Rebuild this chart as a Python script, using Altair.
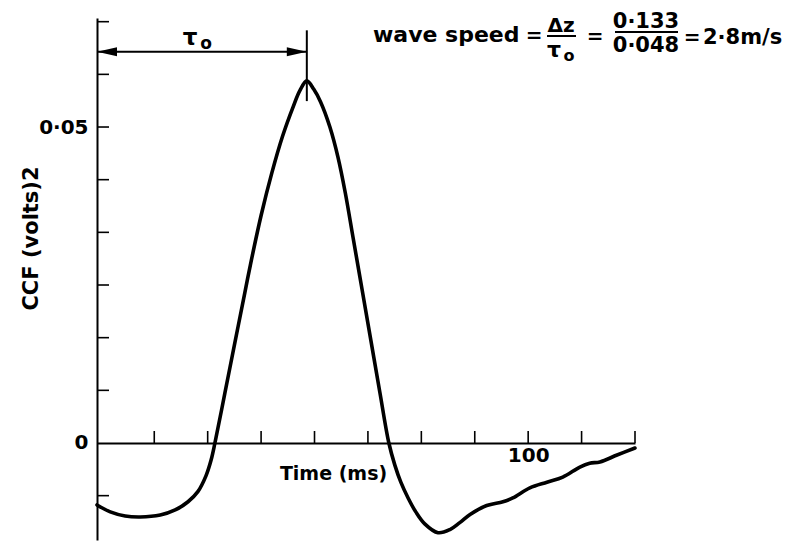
import altair as alt
import pandas as pd

# ---------------- data ----------------
time_ms = [-0.9, 2.2, 5.7, 9.2, 13.9, 17.4, 20.4, 22.7, 24.6, 25.8, 26.7,
           29.0, 31.4, 33.7, 35.0, 37.5, 40.0, 42.5, 45.0, 46.6, 48.2,
           49.8, 51.4, 53.6, 55.5, 57.2, 59.0, 61.1, 63.2, 65.3, 67.4,
           68.8, 70.2, 71.9, 73.7, 75.8, 78.9, 81.7, 84.0, 86.4, 90.3, 94.1,
           96.4, 100.4, 104.4, 108.1, 112.1, 114.4, 116.8, 120.8, 125.0]
ccf = [-0.0098, -0.0109, -0.01155, -0.0117, -0.0114, -0.0106, -0.0093,
       -0.0077, -0.0052, -0.0027, 0.0,
       0.0078, 0.0160, 0.0238, 0.0282, 0.0360, 0.0427, 0.0485, 0.0532,
       0.0558, 0.0573,
       0.0560, 0.0540, 0.0500, 0.0452, 0.0396, 0.0326, 0.0244, 0.0162,
       0.0080, 0.0,
       -0.0035, -0.0062, -0.0087, -0.0109, -0.0128, -0.0142, -0.0137,
       -0.0126, -0.0113, -0.0099, -0.0093, -0.0087, -0.0071, -0.0062,
       -0.0054, -0.0038, -0.0032, -0.0030, -0.0019, -0.0008]

x_tick_values = [12.5, 25, 37.5, 50, 62.5, 75, 87.5, 100, 112.5, 125]
x_label_values = [100]
y_tick_values = [-0.05 / 6, 0.05 / 6, 0.10 / 6, 0.15 / 6, 0.20 / 6, 0.25 / 6,
                 0.05, 0.35 / 6, 0.40 / 6]
y_label_values = [0, 0.05]

tau0_ms = 48.2          # peak lag (0.048 s)
arrow_level = 0.0619    # height of the tau0 dimension arrow
marker_top, marker_bottom = 0.0653, 0.0541

# ---------------- layout ----------------
X_MIN, X_MAX = -0.9, 125
Y_MIN, Y_MAX = -0.01535, 0.06725
W, H = 538, 522
LEFT, TOP = 97, 18
FONT = "DejaVu Sans"
INK = "black"

xs = alt.Scale(domain=[X_MIN, X_MAX], nice=False, zero=False)
ys = alt.Scale(domain=[Y_MIN, Y_MAX], nice=False, zero=False)

zero_from_bottom = H - H * Y_MAX / (Y_MAX - Y_MIN)

curve = alt.Chart(pd.DataFrame({"t": time_ms, "v": ccf})).mark_line(
    color=INK, strokeWidth=3.6, interpolate="catmull-rom", strokeCap="round",
    strokeJoin="round"
).encode(
    x=alt.X("t:Q", scale=xs, axis=alt.Axis(
        values=x_label_values, ticks=False, grid=False,
        domainColor=INK, domainWidth=2, offset=-zero_from_bottom,
        labelFont=FONT, labelFontSize=20, labelFontWeight="bold",
        labelColor=INK, labelPadding=3,
        title="Time (ms)", titleFont=FONT, titleFontSize=19,
        titleFontWeight="bold", titleColor=INK,
        titleX=236, titleY=31, titleBaseline="middle")),
    y=alt.Y("v:Q", scale=ys, axis=alt.Axis(
        values=y_label_values, ticks=False, grid=False,
        labelExpr="datum.value == 0 ? '0' : '0·05'",
        domainColor=INK, domainWidth=2,
        labelFont=FONT, labelFontSize=20, labelFontWeight="bold",
        labelColor=INK, labelPadding=9,
        title="CCF (volts)2", titleFont=FONT, titleFontSize=21,
        titleFontWeight="bold", titleColor=INK,
        titleX=-66, titleY=220, titleBaseline="middle")),
)

xticks = alt.Chart(pd.DataFrame({"t": x_tick_values})).mark_tick(
    orient="vertical", size=12, thickness=1.6, yOffset=-6, color=INK, opacity=1
).encode(x=alt.X("t:Q", scale=xs), y=alt.datum(0))

yticks = alt.Chart(pd.DataFrame({"v": y_tick_values})).mark_tick(
    orient="horizontal", size=12, thickness=1.6, xOffset=6, color=INK, opacity=1
).encode(x=alt.datum(X_MIN), y=alt.Y("v:Q", scale=ys))

arrow_df = pd.DataFrame({"t": [X_MIN], "t2": [tau0_ms], "v": [arrow_level]})
arrow_line = alt.Chart(arrow_df).mark_rule(color=INK, strokeWidth=2).encode(
    x="t:Q", x2="t2:Q", y="v:Q")

marker = alt.Chart(pd.DataFrame({"t": [tau0_ms], "v": [marker_top], "v2": [marker_bottom]})).mark_rule(
    color=INK, strokeWidth=2).encode(x="t:Q", y="v:Q", y2="v2:Q")

head_left = alt.Chart(pd.DataFrame({"t": [X_MIN], "v": [arrow_level]})).mark_point(
    shape="M0,0L2,-0.45L2,0.45Z", size=400, filled=True, color=INK, opacity=1, strokeWidth=0
).encode(x="t:Q", y="v:Q")
head_right = alt.Chart(pd.DataFrame({"t": [tau0_ms], "v": [arrow_level]})).mark_point(
    shape="M0,0L-2,-0.45L-2,0.45Z", size=400, filled=True, color=INK, opacity=1, strokeWidth=0
).encode(x="t:Q", y="v:Q")

one = alt.Data(values=[{}])


def label(text, x, y, size, align="center", baseline="alphabetic"):
    return alt.Chart(one).mark_text(
        font=FONT, fontSize=size, fontWeight="bold", color=INK,
        align=align, baseline=baseline
    ).encode(x=alt.value(x - LEFT), y=alt.value(y - TOP), text=alt.value(text))


def bar(x1, x2, y):
    return alt.Chart(one).mark_rule(color=INK, strokeWidth=2).encode(
        x=alt.value(x1 - LEFT), x2=alt.value(x2 - LEFT), y=alt.value(y - TOP))


annotations = [
    label("τ", 190, 45, 23),
    label("o", 206, 49, 17),
    label("wave speed", 373, 42, 22, align="left"),
    label("=", 534, 42, 20),
    label("Δz", 561, 32, 20),
    bar(547, 576, 36),
    label("τ", 554, 57, 22),
    label("o", 569, 61, 16),
    label("=", 595, 43, 20),
    label("0·133", 646, 28, 21),
    bar(615, 678, 32),
    label("0·048", 646, 52, 21),
    label("=", 692, 44, 20),
    label("2·8m/s", 703, 44, 21, align="left"),
]

chart = alt.layer(curve, xticks, yticks, arrow_line, marker, head_left, head_right,
                  *annotations).properties(
    width=W, height=H,
    autosize=alt.AutoSizeParams(type="none"),
    padding={"left": LEFT, "top": TOP, "right": 791 - LEFT - W, "bottom": 544 - TOP - H},
    background="white",
).configure_view(stroke=None)

chart.save("out.html", embed_options={"renderer": "svg", "actions": False})
